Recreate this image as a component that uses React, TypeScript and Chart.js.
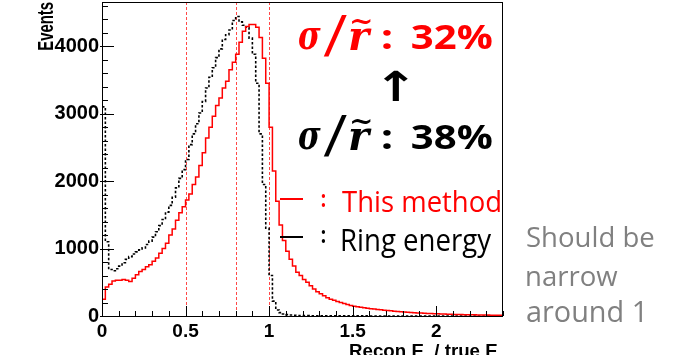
import React, { useEffect, useRef } from "react";
import { Chart, registerables } from "chart.js";

Chart.register(...registerables);

// Histogram binning (lower edges start at 0, width BIN_W)
const BIN_W = 0.02;
const X_MIN = 0;
const X_MAX = 2.4;
const Y_MIN = 0;
const Y_MAX = 4655;

// "This method" (red, solid)
const redValues = [
  250, 430, 470, 520, 530, 530, 540, 530, 510, 560,
  610, 660, 690, 730, 760, 810, 860, 930, 1000, 1080,
  1200, 1290, 1420, 1530, 1620, 1720, 1810, 1950, 2060, 2230,
  2420, 2640, 2800, 2960, 3120, 3230, 3380, 3480, 3650, 3760,
  3880, 4060, 4220, 4290, 4320, 4320, 4280, 4130, 3820, 3450,
  2800, 2150, 1700, 1350, 1120, 960, 840, 740, 650, 600,
  540, 500, 450, 400, 360, 330, 300, 270, 250, 235,
  215, 200, 185, 170, 155, 145, 138, 130, 122, 115,
  108, 102, 96, 92, 86, 80, 76, 70, 66, 62,
  58, 55, 52, 50, 46, 43, 41, 38, 36, 34,
  32, 30, 29, 27, 26, 24, 23, 22, 20, 19,
  18, 17, 16, 15, 14, 13, 12, 11, 10, 10,
];

// "Ring energy" (black, dotted)
const blackValues = [
  3100, 1100, 690, 670, 700, 740, 790, 840, 880, 920,
  950, 980, 1010, 1060, 1110, 1170, 1250, 1340, 1430, 1540,
  1640, 1760, 1900, 2040, 2170, 2320, 2540, 2700, 2850, 3010,
  3180, 3380, 3540, 3680, 3830, 3960, 4100, 4170, 4240, 4380,
  4440, 4360, 4310, 4280, 4120, 3880, 3450, 2700, 1950, 1300,
  600, 220, 90, 50, 30, 20, 14, 10, 8, 6,
  5, 5, 4, 4, 4, 3, 3, 3, 3, 3,
  2, 2, 2, 2, 2, 2, 2, 2, 2, 2,
  1, 1, 1, 1, 1, 1, 1, 1, 1, 1,
  1, 1, 1, 1, 1, 1, 1, 1, 1, 1,
  1, 1, 1, 1, 1, 1, 1, 1, 1, 1,
  1, 1, 1, 1, 1, 1, 1, 1, 1, 1,
];

const markerLines = [0.5, 0.8, 1.0];
const xTickValues = [0, 0.5, 1, 1.5, 2];
const yTickValues = [0, 1000, 2000, 3000, 4000];

const seriesLabels = ["This method", "Ring energy"];
const resolutionNew = "32%";
const resolutionOld = "38%";
const sideNote = ["Should be", "narrow", "around 1"];
const xTitle = "Recon E  / true E";
const yTitle = "Events";

function histPoints(values: number[], startAtZero: boolean) {
  const pts: { x: number; y: number }[] = [];
  if (startAtZero) pts.push({ x: 0, y: 0 });
  values.forEach((v, i) => pts.push({ x: +(i * BIN_W).toFixed(4), y: v }));
  pts.push({ x: X_MAX, y: values[values.length - 1] });
  return pts;
}

function fitInk(
  ctx: CanvasRenderingContext2D,
  text: string,
  font: string,
  color: string,
  x0: number,
  y0: number,
  x1: number,
  y1: number
) {
  ctx.save();
  ctx.font = font;
  ctx.textAlign = "left";
  ctx.textBaseline = "alphabetic";
  const m = ctx.measureText(text);
  const w = m.actualBoundingBoxLeft + m.actualBoundingBoxRight;
  const h = m.actualBoundingBoxAscent + m.actualBoundingBoxDescent;
  ctx.translate(x0, y0);
  ctx.scale((x1 - x0) / w, (y1 - y0) / h);
  ctx.fillStyle = color;
  ctx.fillText(text, m.actualBoundingBoxLeft, m.actualBoundingBoxAscent);
  ctx.restore();
}

const decorPlugin = {
  id: "decor",
  beforeDatasetsDraw(chart: any) {
    const { ctx, chartArea, scales } = chart;
    ctx.save();
    ctx.strokeStyle = "rgba(255,40,40,0.85)";
    ctx.lineWidth = 1;
    ctx.setLineDash([3, 2]);
    markerLines.forEach((v) => {
      const px = Math.round(scales.x.getPixelForValue(v)) + 0.5;
      ctx.beginPath();
      ctx.moveTo(px, chartArea.top);
      ctx.lineTo(px, chartArea.bottom);
      ctx.stroke();
    });
    ctx.restore();
  },
  afterDraw(chart: any) {
    const { ctx, chartArea, scales } = chart;
    const { left, right, top, bottom } = chartArea;
    ctx.save();
    ctx.setLineDash([]);
    ctx.strokeStyle = "#000";
    ctx.lineWidth = 1;
    ctx.strokeRect(left + 0.5, top + 0.5, right - left - 1, bottom - top);
    // y ticks (inside)
    for (let v = 0; v <= Y_MAX; v += 200) {
      const py = Math.round(scales.y.getPixelForValue(v)) + 0.5;
      const len = v % 1000 === 0 ? 12 : 6;
      ctx.beginPath();
      ctx.moveTo(left - (v % 1000 === 0 ? 2 : 0), py);
      ctx.lineTo(left + len, py);
      ctx.stroke();
    }
    // x ticks (inside)
    for (let i = 0; i <= 24; i++) {
      const v = i / 10;
      const px = Math.round(scales.x.getPixelForValue(v)) + 0.5;
      const len = i % 5 === 0 ? 10 : 5;
      ctx.beginPath();
      ctx.moveTo(px, bottom);
      ctx.lineTo(px, bottom - len);
      ctx.stroke();
    }
    ctx.restore();

    // axis titles
    ctx.save();
    ctx.translate(38, 50);
    ctx.rotate(-Math.PI / 2);
    fitInk(ctx, yTitle, 'bold 20px "Liberation Sans"', "#000", 0, 0, 48, 15);
    ctx.restore();

    ctx.save();
    ctx.font = 'bold 19px "Liberation Sans"';
    const tm = ctx.measureText(xTitle);
    const tw = tm.actualBoundingBoxLeft + tm.actualBoundingBoxRight;
    ctx.translate(350, 357);
    ctx.scale(147 / tw, 1);
    ctx.fillStyle = "#000";
    ctx.fillText(xTitle, tm.actualBoundingBoxLeft, 0);
    ctx.restore();

    // resolution annotations
    const serif = 'italic bold 40px "DejaVu Serif"';
    const sans = 'bold 34px "Open Sans"';
    const drawRes = (pct: string, color: string, dy: number) => {
      fitInk(ctx, "\u03C3", serif, color, 298, 28 + dy, 321, 50 + dy);
      fitInk(ctx, "/", serif, color, 323, 15 + dy, 347, 57 + dy);
      fitInk(ctx, "r", serif, color, 350, 28 + dy, 372, 50 + dy);
      fitInk(ctx, "~", serif, color, 352, 19 + dy, 371, 25 + dy);
      fitInk(ctx, ":", sans, color, 382, 30 + dy, 391, 49 + dy);
      fitInk(ctx, pct, sans, color, 412, 25 + dy, 492, 49 + dy);
    };
    drawRes(resolutionNew, "#ff0000", 0);
    drawRes(resolutionOld, "#000000", 100);
    fitInk(ctx, "\u2191", 'bold 40px "DejaVu Sans"', "#000", 383, 70, 408, 101);

    // legend
    ctx.save();
    ctx.lineWidth = 2;
    ctx.strokeStyle = "#ff0000";
    ctx.beginPath();
    ctx.moveTo(280, 199);
    ctx.lineTo(303, 199);
    ctx.stroke();
    ctx.strokeStyle = "#000";
    ctx.beginPath();
    ctx.moveTo(280, 237);
    ctx.lineTo(303, 237);
    ctx.stroke();
    ctx.restore();
    const lf = '28px "Open Sans"';
    fitInk(ctx, ":", 'bold 28px "Open Sans"', "#ff0000", 321.5, 193.5, 325.5, 206.5);
    fitInk(ctx, ":", 'bold 28px "Open Sans"', "#000", 321.5, 229.5, 325.5, 242.5);
    fitInk(ctx, seriesLabels[0], lf, "#ff0000", 342, 190.5, 500, 211.7);
    fitInk(ctx, seriesLabels[1], lf, "#000", 342, 228.3, 492, 258.5);

    // side note
    const gray = "#808080";
    fitInk(ctx, sideNote[0], lf, gray, 527, 226, 654, 247);
    fitInk(ctx, sideNote[1], lf, gray, 527, 271.5, 618, 286);
    fitInk(ctx, sideNote[2], lf, gray, 527, 300, 642, 321.7);
  },
};

export default function App() {
  const ref = useRef<HTMLCanvasElement | null>(null);
  useEffect(() => {
    if (!ref.current) return;
    const zeroPad = (s: any) => {
      s.paddingTop = 0;
      s.paddingBottom = 0;
      s.paddingLeft = 0;
      s.paddingRight = 0;
    };
    const chart = new Chart(ref.current, {
      type: "line",
      data: {
        datasets: [
          {
            label: seriesLabels[0],
            data: histPoints(redValues, true),
            borderColor: "#ff0000",
            borderWidth: 1.5,
            stepped: "before",
            pointRadius: 0,
            fill: false,
          },
          {
            label: seriesLabels[1],
            data: histPoints(blackValues, false),
            borderColor: "#000",
            borderWidth: 1.6,
            borderDash: [2.5, 2],
            stepped: "before",
            pointRadius: 0,
            fill: false,
          },
        ],
      },
      options: {
        responsive: false,
        maintainAspectRatio: false,
        animation: false,
        events: [],
        layout: { padding: { left: 0, top: 2, right: 170, bottom: 0 } },
        plugins: { legend: { display: false }, tooltip: { enabled: false } },
        scales: {
          x: {
            type: "linear",
            position: "bottom",
            min: X_MIN,
            max: X_MAX,
            grid: { display: false, drawTicks: false },
            border: { display: false },
            afterFit: (s: any) => {
              s.height = 39;
              zeroPad(s);
            },
            afterBuildTicks: (s: any) => {
              s.ticks = xTickValues.map((v) => ({ value: v }));
            },
            ticks: {
              autoSkip: false,
              maxRotation: 0,
              padding: 4,
              color: "#000",
              font: { family: "Liberation Sans", size: 19, weight: "bold" },
              callback: (v: any) => String(v),
            },
          },
          y: {
            type: "linear",
            position: "left",
            min: Y_MIN,
            max: Y_MAX,
            grid: { display: false, drawTicks: false },
            border: { display: false },
            afterFit: (s: any) => {
              s.width = 102;
              zeroPad(s);
            },
            afterBuildTicks: (s: any) => {
              s.ticks = yTickValues.map((v) => ({ value: v }));
            },
            ticks: {
              autoSkip: false,
              padding: 3,
              color: "#000",
              font: { family: "Liberation Sans", size: 20, weight: "bold" },
              callback: (v: any) => String(v),
            },
          },
        },
      },
      plugins: [decorPlugin],
    } as any);
    return () => chart.destroy();
  }, []);
  return (
    <div style={{ position: "absolute", left: 0, top: 0, width: 673, height: 355, background: "#fff" }}>
      <canvas ref={ref} width={673} height={355} style={{ display: "block" }} />
    </div>
  );
}
